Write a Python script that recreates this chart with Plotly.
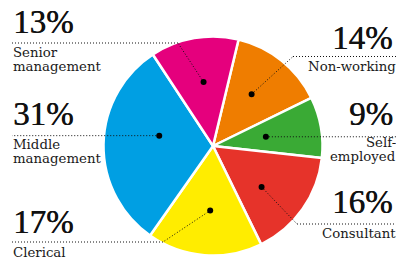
import math
import plotly.graph_objects as go

# ---- data ----
categories = ["Non-working", "Self-employed", "Consultant", "Clerical",
              "Middle management", "Senior management"]
values = [14, 9, 16, 17, 31, 13]
pct_labels = ["14%", "9%", "16%", "17%", "31%", "13%"]
label_lines = [["Non-working"], ["Self-", "employed"], ["Consultant"],
               ["Clerical"], ["Middle", "management"], ["Senior", "management"]]
colors = ["#EF7D00", "#3AAA35", "#E6332A", "#FFED00", "#009FE3", "#E5007D"]

# ---- layout (pixel space) ----
W, H = 396, 259
CX, CY, R = 213, 146, 109.5
ROT = 13.5
dot_r_frac = [0.59, 0.49, 0.58, 0.59, 0.50, 0.59]
dot_ang_off = [-2, 0, 5, -2, 10, 1.5]
side = ["right", "right", "right", "left", "left", "left"]
line_y = [56.5, None, 224, 242, None, 43]
elbow_x = [293, None, 297, 163, None, 178]
pct_y = [38, 113.5, 202, 222, 113.5, 22]
label_y0 = [66.8, 142, 233.6, 252, 144.6, 52.8]
LABEL_DY = 14
LEFT_X = 11

fig = go.Figure()
fig.add_trace(go.Pie(
    labels=categories, values=values, sort=False, direction="clockwise",
    rotation=ROT, textinfo="none", hoverinfo="skip", showlegend=False,
    marker=dict(colors=colors, line=dict(color="white", width=2.5)),
    domain=dict(x=[(CX - R) / W, (CX + R) / W],
                y=[1 - (CY + R) / H, 1 - (CY - R) / H]),
))
# invisible trace to set up pixel-space axes
fig.add_trace(go.Scatter(x=[0], y=[0], mode="markers", marker=dict(opacity=0),
                         hoverinfo="skip", showlegend=False))

total = sum(values)
cum = 0
shapes = []
annotations = []
for i, v in enumerate(values):
    mid = ROT + (cum + v / 2) / total * 360 + dot_ang_off[i]
    cum += v
    r = R * dot_r_frac[i]
    dx = CX + r * math.sin(math.radians(mid))
    dy = CY - r * math.cos(math.radians(mid))
    ly = dy if line_y[i] is None else line_y[i]
    ex = dx if elbow_x[i] is None else elbow_x[i]
    end_x = W if side[i] == "right" else LEFT_X + 1
    dline = dict(color="#111111", width=1, dash="1px,2px")
    if elbow_x[i] is not None:
        shapes.append(dict(type="line", xref="x", yref="y", x0=dx, y0=dy, x1=ex, y1=ly,
                           line=dline, layer="above"))
    shapes.append(dict(type="line", xref="x", yref="y", x0=ex, y0=ly, x1=end_x, y1=ly,
                       line=dline, layer="above"))
    shapes.append(dict(type="circle", xref="x", yref="y", x0=dx - 3, x1=dx + 3,
                       y0=dy - 3, y1=dy + 3, fillcolor="black",
                       line=dict(width=0), layer="above"))
    if side[i] == "right":
        ax, xs_pct, xs_lab = W, -1, 2
    else:
        ax, xs_pct, xs_lab = LEFT_X, 0, 0
    anchor = side[i]
    annotations.append(dict(x=ax, xshift=xs_pct, y=pct_y[i], xref="x", yref="y",
                            text=pct_labels[i], showarrow=False, xanchor=anchor,
                            yanchor="middle",
                            font=dict(family="Liberation Serif", size=33, color="#111111",
                                      shadow="0.5px 0px 0px #111111")))
    for j, t in enumerate(label_lines[i]):
        annotations.append(dict(x=ax, xshift=xs_lab, y=label_y0[i] + j * LABEL_DY,
                                xref="x", yref="y", text=t, showarrow=False,
                                xanchor=anchor, yanchor="middle",
                                font=dict(family="DejaVu Serif", size=13.3, color="#1a1a1a")))

fig.update_layout(
    width=W, height=H, margin=dict(l=0, r=0, t=0, b=0),
    paper_bgcolor="white", plot_bgcolor="rgba(0,0,0,0)",
    xaxis=dict(range=[0, W], visible=False, fixedrange=True),
    yaxis=dict(range=[H, 0], visible=False, fixedrange=True),
    shapes=shapes, annotations=annotations, showlegend=False,
)
fig.write_html("out.html", config={"displayModeBar": False},
               post_script="document.body.style.margin='0';document.body.style.padding='0';")
